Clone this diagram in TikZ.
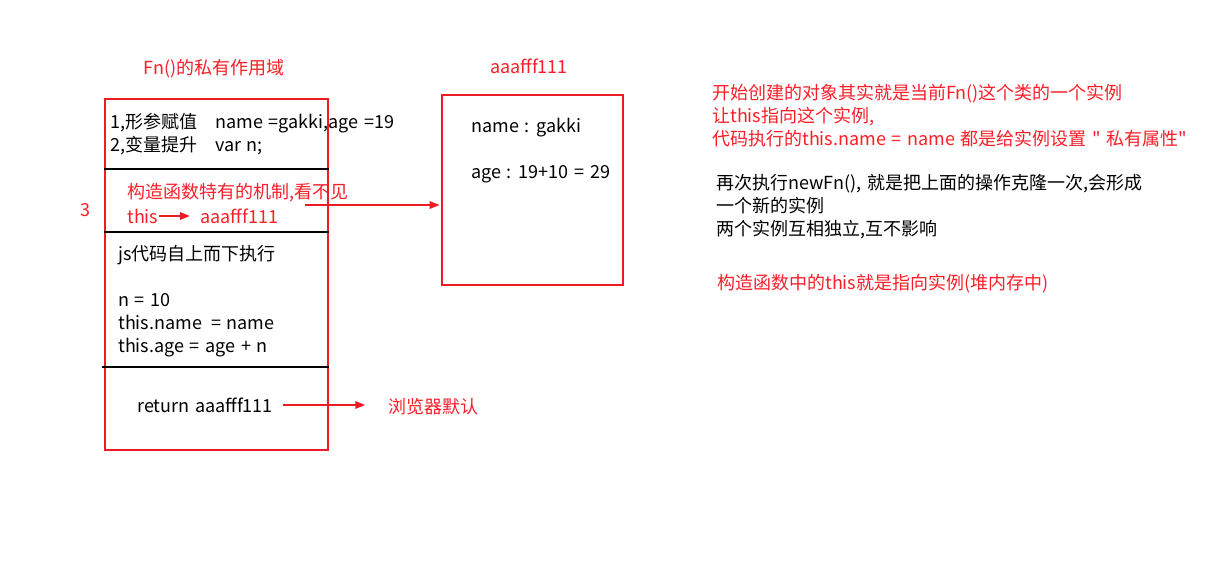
\documentclass[tikz,border=0pt]{standalone}
\usepackage{fontspec}
\setmainfont[WordSpace=1.4]{Noto Sans CJK SC}
\usetikzlibrary{arrows.meta, positioning}
\definecolor{boxred}{RGB}{237,28,36}
\definecolor{txtred}{RGB}{250,30,40}

\begin{document}
\begin{tikzpicture}[
    x=0.75pt, y=-0.75pt,
    every node/.style={inner sep=0pt, font=\fontsize{13.5}{17.25}\selectfont},
    frame/.style={draw=boxred, line width=1.5pt},
    note/.style={text=txtred, align=left, anchor=west},
    code/.style={align=left, anchor=west},
    divider/.style={line width=1.5pt},
    arrow/.style={-{Triangle[length=7.5pt, width=5.5pt]}, draw=boxred, line width=1.5pt}
  ]
  \useasboundingbox (0,0) rectangle (1218,561);

  % Scope of Fn()
  \node (scope) [frame, minimum width=167.25pt, minimum height=263.25pt] at (216.5,274.5) {};
  \node (scopetitle) [text=txtred] at (214,69) {Fn()的私有作用域};
  \draw[divider] (scope.west |- 0,169) -- (scope.east |- 0,169);
  \draw[divider] (scope.west |- 0,232) -- (scope.east |- 0,232);
  \draw[divider] (102,367) -- (scope.east |- 0,367);

  % Steps 1 and 2
  \node (params) [code] at (110,134.5) {1,形参赋值\quad name =gakki,age =19\\2,变量提升\quad var n;};

  % Step 3
  \node (three) [note] at (80,210) {3};
  \node (hidden) [note] at (127,193) {构造函数特有的机制,看不见};
  \node (this) [note] at (127,216) {this};
  \node (ptr) [note] at (200,216) {aaafff111};
  \draw[arrow] (this.east) -- (ptr.west) [shorten >=7.5pt];

  % Code body
  \node (body) [code] at (118,301.5) {js代码自上而下执行\\[17.25pt]n = 10\\this.name\enspace = name\\this.age = age + n};

  % Return
  \node (ret) [code] at (137,405) {return aaafff111};
  \node (browser) [note] at (388,407) {浏览器默认};
  \draw[arrow] (ret.east) -- (browser.west |- ret.east) [shorten <=7.5pt, shorten >=17pt];

  % The instance
  \node (obj) [frame, minimum width=135.75pt, minimum height=142.5pt] at (532.5,190) {};
  \node (objtitle) [text=txtred] at (529,66) {aaafff111};
  \node (props) [code] at (471,151) {name : gakki\\[17.25pt]age : 19+10 = 29};
  \coordinate (src) at (305,205);
  \draw[arrow] (src) -- (src -| obj.west) [shorten >=1pt];

  % Notes on the right
  \node (explain) [note] at (712,115.5) {开始创建的对象其实就是当前Fn()这个类的一个实例\\让this指向这个实例,\\代码执行的this.name = name 都是给实例设置 \textquotedbl{} 私有属性\textquotedbl};
  \node (clone) [code] at (716,207) {再次执行newFn(), 就是把上面的操作克隆一次,会形成\\一个新的实例\\两个实例互相独立,互不影响};
  \node (summary) [note] at (717,284) {构造函数中的this就是指向实例(堆内存中)};
\end{tikzpicture}
\end{document}
